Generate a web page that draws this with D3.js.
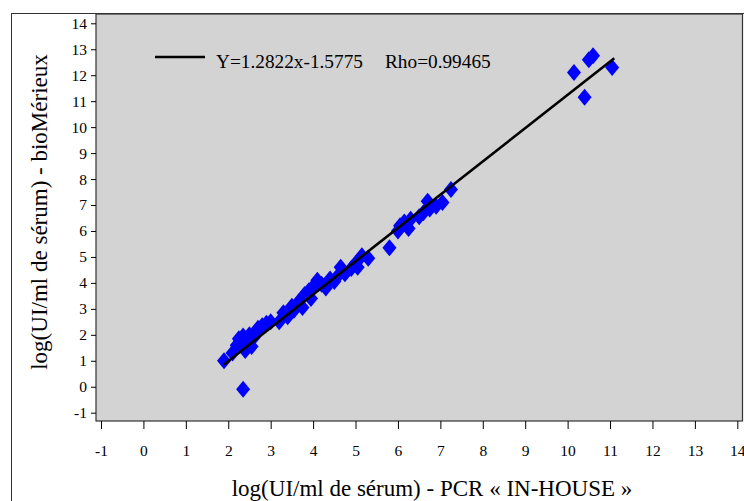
<!DOCTYPE html>
<html>
<head>
<meta charset="utf-8">
<script src="https://cdn.jsdelivr.net/npm/d3@7/dist/d3.min.js"></script>
<style>
  html, body { margin: 0; padding: 0; background: #ffffff; }
  svg { display: block; }
</style>
</head>
<body>
<svg id="chart" width="744" height="501"></svg>
<script>
// ---- data ----
const pcrInHouse = [1.9, 2.1, 2.2, 2.25, 2.35, 2.4, 2.45, 2.5, 2.55, 2.6, 2.65, 2.7, 2.8, 2.9, 3.0, 2.35,
  3.2, 3.3, 3.4, 3.5, 3.55, 3.65, 3.75, 3.8, 3.9, 3.95, 4.0, 4.1, 4.2, 4.3, 4.4, 4.5, 4.6, 4.65, 4.75, 4.9, 5.0, 5.05, 5.15, 5.3,
  5.8, 6.0, 6.05, 6.15, 6.25, 6.3, 6.5, 6.6, 6.7, 6.75, 6.9, 7.05, 7.25,
  10.15, 10.4, 10.5, 10.6, 11.05];
const bioMerieux = [1.0, 1.3, 1.6, 1.85, 1.95, 1.4, 1.7, 2.0, 1.55, 1.9, 2.1, 2.25, 2.35, 2.45, 2.5, -0.1,
  2.5, 2.85, 2.7, 3.1, 2.95, 3.25, 3.05, 3.55, 3.7, 3.4, 3.85, 4.1, 3.95, 3.8, 4.15, 4.05, 4.3, 4.6, 4.35, 4.55, 4.75, 4.6, 5.05, 4.95,
  5.35, 6.0, 6.2, 6.35, 6.1, 6.45, 6.55, 6.7, 7.15, 6.85, 6.95, 7.1, 7.6,
  12.1, 11.15, 12.6, 12.75, 12.3];
const fitSlope = 1.2822;
const fitIntercept = -1.5775;
const fitRange = [1.9, 11.1];
const xTicks = [-1, 0, 1, 2, 3, 4, 5, 6, 7, 8, 9, 10, 11, 12, 13, 14];
const yTicks = [-1, 0, 1, 2, 3, 4, 5, 6, 7, 8, 9, 10, 11, 12, 13, 14];
const legendEq = "Y=1.2822x-1.5775";
const legendRho = "Rho=0.99465";
const xTitle = "log(UI/ml de sérum) - PCR « IN-HOUSE »";
const yTitle = "log(UI/ml de sérum) - bioMérieux";

const SERIF = "'Liberation Serif', 'Times New Roman', 'DejaVu Serif', serif";

// ---- layout ----
const svg = d3.select("#chart");
const plot = { left: 96, top: 14, right: 742.5, bottom: 421 };

const x = d3.scaleLinear().domain([-1, 14]).range([101, 737.3]);
const y = d3.scaleLinear().domain([-1, 14]).range([412.7, 23.3]);

// outer frame
svg.append("rect")
  .attr("x", 11.5).attr("y", 13.5).attr("width", 740).attr("height", 520)
  .attr("fill", "none").attr("stroke", "#333").attr("stroke-width", 1);

// plot area
svg.append("rect")
  .attr("x", plot.left).attr("y", plot.top)
  .attr("width", plot.right - plot.left).attr("height", plot.bottom - plot.top)
  .attr("fill", "#d3d3d3").attr("stroke", "#333").attr("stroke-width", 1.2);

// axes
const fmt = d => String(d);
const yAxis = d3.axisLeft(y).tickValues(yTicks).tickSize(5).tickPadding(4).tickFormat(fmt);
const gy = svg.append("g").attr("transform", `translate(${plot.left},0)`).call(yAxis)
  .attr("font-family", SERIF).attr("font-size", 15.5);
gy.select(".domain").remove();
gy.selectAll("line").attr("stroke", "#000");
gy.selectAll("text").attr("font-family", SERIF).attr("fill", "#000");

const xAxis = d3.axisBottom(x).tickValues(xTicks).tickSize(8).tickPadding(16).tickFormat(fmt);
const gx = svg.append("g").attr("transform", `translate(0,${plot.bottom})`).call(xAxis)
  .attr("font-family", SERIF).attr("font-size", 15.5);
gx.select(".domain").remove();
gx.selectAll("line").attr("stroke", "#000");
gx.selectAll("text").attr("font-family", SERIF).attr("fill", "#000");

// data points (diamonds)
const pts = pcrInHouse.map((v, i) => [v, bioMerieux[i]]);
const diamond = "M0,-8.5L7,0L0,8.5L-7,0Z";
svg.append("g").selectAll("path").data(pts).join("path")
  .attr("d", diamond)
  .attr("transform", d => `translate(${x(d[0])},${y(d[1])})`)
  .attr("fill", "#0000ff");

// regression line
svg.append("line")
  .attr("x1", x(fitRange[0])).attr("y1", y(fitSlope * fitRange[0] + fitIntercept))
  .attr("x2", x(fitRange[1])).attr("y2", y(fitSlope * fitRange[1] + fitIntercept))
  .attr("stroke", "#000").attr("stroke-width", 2.6);

// legend
svg.append("line").attr("x1", 155).attr("x2", 205).attr("y1", 57).attr("y2", 57)
  .attr("stroke", "#000").attr("stroke-width", 2.6);
svg.append("text").attr("x", 216).attr("y", 68).attr("font-family", SERIF).attr("font-size", 19.3).text(legendEq);
svg.append("text").attr("x", 385).attr("y", 68).attr("font-family", SERIF).attr("font-size", 19.3).text(legendRho);

// titles
svg.append("text").attr("x", 432).attr("y", 496).attr("text-anchor", "middle")
  .attr("font-family", SERIF).attr("font-size", 23).text(xTitle);
svg.append("text").attr("transform", "translate(47,212) rotate(-90)").attr("text-anchor", "middle")
  .attr("font-family", SERIF).attr("font-size", 23).text(yTitle);
</script>
</body>
</html>
